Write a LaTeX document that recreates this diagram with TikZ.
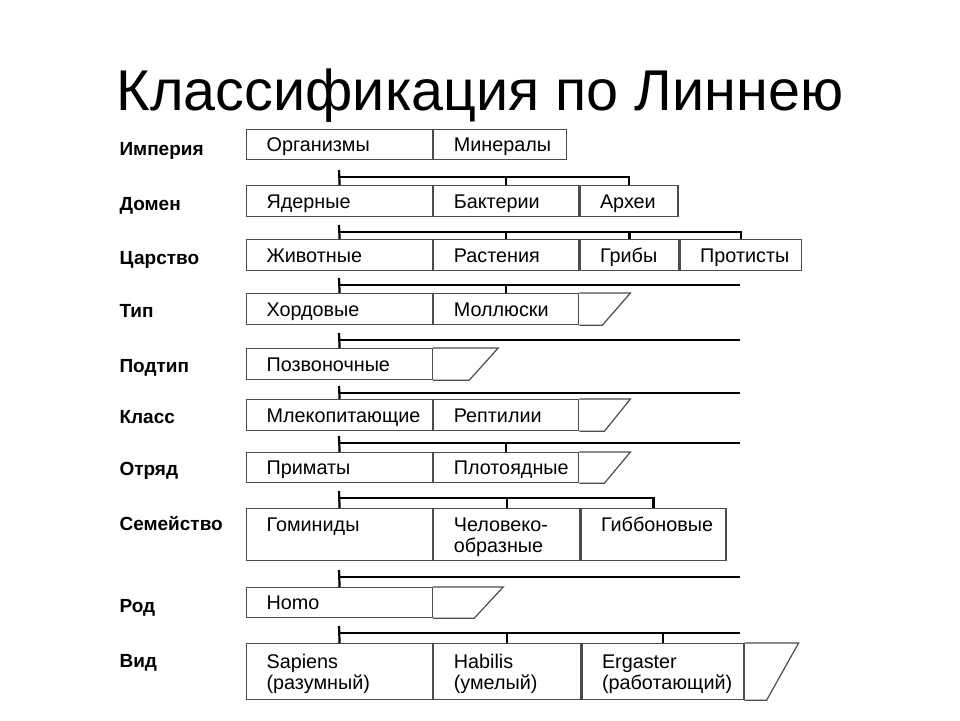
\documentclass[tikz,border=0pt]{standalone}
\usepackage{fontspec}
\setmainfont{Liberation Sans}
\newcommand\cellstrut{\rule{0pt}{19pt}}
\newcommand\cellfoot{\rule[-5pt]{0pt}{5pt}}
\tikzset{
  cellbox/.style={draw=black!70, line width=1.2pt, anchor=north west,
    minimum width=#1, text width=#1-40, minimum height=31,
    inner xsep=20, inner ysep=0, align=left,
    font=\fontsize{19.8}{21}\selectfont,
    execute at begin node=\cellstrut, execute at end node=\cellfoot},
  tail/.style={draw=black!70, line width=1.2pt},
  bus/.style={line width=2.2pt},
  rank/.style={anchor=base west, font=\bfseries\fontsize{19}{21}\selectfont},
}
\begin{document}
\begin{tikzpicture}[x=1pt, y=-1pt]
  \useasboundingbox (0,0) rectangle (960,720);

  \node[anchor=base, font=\fontsize{57.5}{60}\selectfont] (title) at (480,110) {Классификация по Линнею};

  % ranks
  \begin{scope}[every node/.style={rank}]
    \node (imp) at (116,155) {Империя};
    \node (dom) at (116,210) {Домен};
    \node (car) at (116,264) {Царство};
    \node (tip) at (116,317) {Тип};
    \node (pdt) at (116,372) {Подтип};
    \node (kls) at (116,423) {Класс};
    \node (otr) at (116,475) {Отряд};
    \node (sem) at (116,530) {Семейство};
    \node (rod) at (116,612) {Род};
    \node (vid) at (116,667) {Вид};
  \end{scope}

  % cells
  \node[cellbox=186, minimum height=30] (org) at (246,129) {Организмы};
  \node[cellbox=133, minimum height=30] (mnr) at (org.north east) {Минералы};

  \node[cellbox=186] (yad) at (246,185) {Ядерные};
  \node[cellbox=145] (bak) at (yad.north east) {Бактерии};
  \node[cellbox=98]  (arh) at (bak.north east) {Археи};

  \node[cellbox=186] (ziv) at (246,239) {Животные};
  \node[cellbox=145] (ras) at (ziv.north east) {Растения};
  \node[cellbox=99]  (gri) at (ras.north east) {Грибы};
  \node[cellbox=121] (pro) at (gri.north east) {Протисты};

  \node[cellbox=186] (hor) at (246,293) {Хордовые};
  \node[cellbox=145] (mol) at (hor.north east) {Моллюски};

  \node[cellbox=186] (pzv) at (246,348) {Позвоночные};

  \node[cellbox=186] (mle) at (246,399) {Млекопитающие};
  \node[cellbox=145] (rep) at (mle.north east) {Рептилии};

  \node[cellbox=186, minimum height=30] (pri) at (246,452) {Приматы};
  \node[cellbox=145, minimum height=30] (plo) at (pri.north east) {Плотоядные};

  \node[cellbox=186, minimum height=52] (gom) at (246,508) {Гоминиды\\};
  \node[cellbox=146, minimum height=52] (che) at (gom.north east) {Человеко-\\образные};
  \node[cellbox=145, minimum height=52] (gib) at (che.north east) {Гиббоновые\\};

  \node[cellbox=186, minimum height=30] (hom) at (246,587) {Homo};

  \node[cellbox=186, minimum height=56] (sap) at (246,643) {Sapiens\\(разумный)};
  \node[cellbox=147, minimum height=56] (hab) at (sap.north east) {Habilis\\(умелый)};
  \node[cellbox=162, minimum height=56] (erg) at (hab.north east) {Ergaster\\(работающий)};

  % open tails
  \draw[tail] (mol.north east) -- ++(51,0) -- ([xshift=23]mol.south east) -- (mol.south east);
  \draw[tail] (pzv.north east) -- ++(65,0) -- ([xshift=36]pzv.south east) -- (pzv.south east);
  \draw[tail] (rep.north east) -- ++(51,0) -- ([xshift=25]rep.south east) -- (rep.south east);
  \draw[tail] (plo.north east) -- ++(51,0) -- ([xshift=25]plo.south east) -- (plo.south east);
  \draw[tail] (hom.north east) -- ++(70,0) -- ([xshift=41]hom.south east) -- (hom.south east);
  \draw[tail] (erg.north east) -- ++(54,0) -- ([xshift=22]erg.south east) -- (erg.south east);

  % buses
  \coordinate (b2) at (339,177);
  \coordinate (b3) at (339,232);
  \coordinate (b4) at (339,285);  \coordinate (e4) at (740,285);
  \coordinate (b5) at (339,340);  \coordinate (e5) at (740,340);
  \coordinate (b6) at (339,393);  \coordinate (e6) at (740,393);
  \coordinate (b7) at (339,443);  \coordinate (e7) at (740,443);
  \coordinate (b8) at (339,498);
  \coordinate (b9) at (339,577);  \coordinate (e9) at (740,577);
  \coordinate (b10) at (339,633); \coordinate (e10) at (740,633);

  \draw[bus] (b2) ++(0,-7) -- (yad.north);
  \draw[bus] (b2) -| (arh.north);
  \draw[bus] (bak.north) -- (bak.north |- b2);

  \draw[bus] (b3) ++(0,-7) -- (ziv.north);
  \draw[bus] (b3) -| (pro.north);
  \draw[bus] (ras.north) -- (ras.north |- b3);
  \draw[bus] (gri.north) -- (gri.north |- b3);

  \draw[bus] (b4) ++(0,-7) -- (hor.north);
  \draw[bus] (b4) -- (e4);
  \draw[bus] (mol.north) -- (mol.north |- b4);

  \draw[bus] (b5) ++(0,-7) -- (pzv.north);
  \draw[bus] (b5) -- (e5);

  \draw[bus] (b6) ++(0,-7) -- (mle.north);
  \draw[bus] (b6) -- (e6);

  \draw[bus] (b7) ++(0,-7) -- (pri.north);
  \draw[bus] (b7) -- (e7);
  \draw[bus] (plo.north) -- (plo.north |- b7);

  \draw[bus] (b8) ++(0,-7) -- (gom.north);
  \draw[bus] (b8) -| (gib.north);
  \draw[bus] (che.north) -- (che.north |- b8);

  \draw[bus] (b9) ++(0,-7) -- (hom.north);
  \draw[bus] (b9) -- (e9);

  \draw[bus] (b10) ++(0,-7) -- (sap.north);
  \draw[bus] (b10) -- (e10);
  \draw[bus] (hab.north) -- (hab.north |- b10);
  \draw[bus] (erg.north) -- (erg.north |- b10);

\end{tikzpicture}
\end{document}
